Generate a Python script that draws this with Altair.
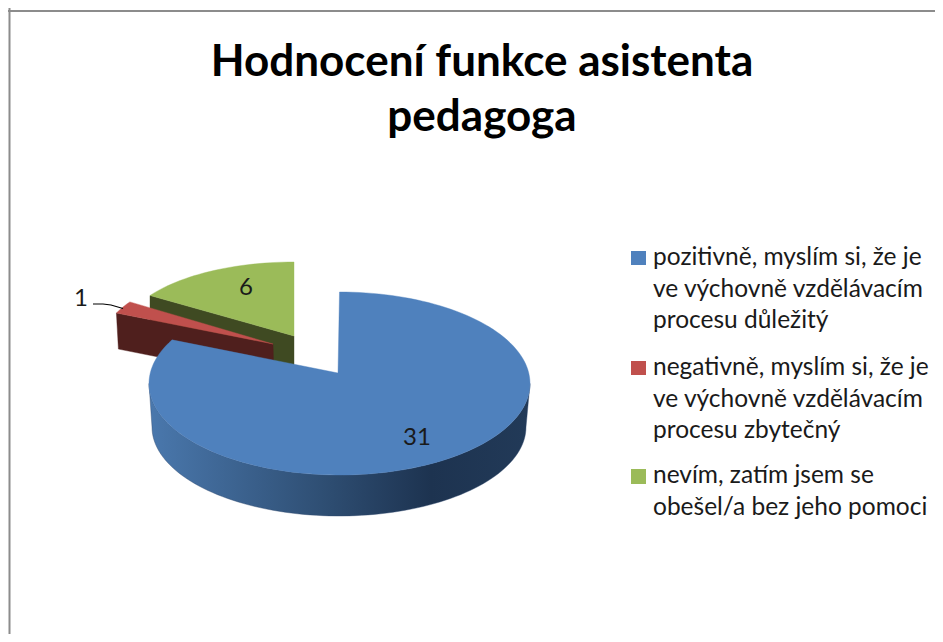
import math
import altair as alt
import pandas as pd

categories = ["pozitivně", "negativně", "nevím"]
values = [31, 1, 6]
top_colors = ["#4f81bd", "#c0504d", "#9bbb59"]
side_colors = ["#1f3552", "#4f1f1d", "#3f4a22"]
title_lines = ["Hodnocení funkce asistenta", "pedagoga"]
legend_lines = [
    ["pozitivně, myslím si, že je", "ve výchovně vzdělávacím", "procesu důležitý"],
    ["negativně, myslím si, že je", "ve výchovně vzdělávacím", "procesu zbytečný"],
    ["nevím, zatím jsem se", "obešel/a bez jeho pomoci"],
]
FONT = "Lato"
W, H = 927, 626

xs = alt.X("x:Q", scale=alt.Scale(domain=[8, 8 + W], nice=False, zero=False), axis=None)
ys = alt.Y("y:Q", scale=alt.Scale(domain=[8 + H, 8], nice=False, zero=False), axis=None)

# slice angles come from the values
total = sum(values)
edges = [0]
for v in values:
    edges.append(edges[-1] + v / total * 360)


def arc(cx, cy, rx, ry, t0, t1, step=2):
    n = max(2, int(abs(t1 - t0) / step) + 1)
    out = []
    for k in range(n + 1):
        t = math.radians(t0 + (t1 - t0) * k / n)
        out.append((cx + rx * math.sin(t), cy - ry * math.cos(t)))
    return out


def poly(points, fill):
    df = pd.DataFrame([{"x": p[0], "y": p[1], "i": i} for i, p in enumerate(points + points[:1])])
    return alt.Chart(df).mark_line(fill=fill, stroke=fill if isinstance(fill, str) else "#2a4569",
                                   strokeWidth=0.4, interpolate="linear").encode(
        x=xs, y=ys, order=alt.Order("i:Q"))


def text(x, y, s, size, color="#1a1a1a", bold=False, align="left"):
    df = pd.DataFrame([{"x": x, "y": y, "t": s}])
    return alt.Chart(df).mark_text(font=FONT, fontSize=size, color=color, align=align, baseline="alphabetic",
                                   fontWeight="bold" if bold else "normal").encode(x=xs, y=ys, text="t:N")


layers = []

# frame
layers.append(alt.Chart(pd.DataFrame([{"x": 9.5}])).mark_rule(color="#8c8c8c", strokeWidth=2).encode(x=xs))
layers.append(alt.Chart(pd.DataFrame([{"y": 11}])).mark_rule(color="#8c8c8c", strokeWidth=2).encode(y=ys))

# green slice
g_apex = (294, 336)
g_arc = arc(g_apex[0], g_apex[1], 172, 74, edges[2], edges[3])
depth_g = 38
g_side = [g_arc[0], g_apex, (g_apex[0], g_apex[1] + depth_g), (g_arc[0][0], g_arc[0][1] + depth_g)]
layers.append(poly(g_side, side_colors[2]))
layers.append(poly(g_arc + [g_apex], top_colors[2]))

# red slice
r_apex = (273, 344)
r_arc = arc(r_apex[0], r_apex[1], 171, 77, edges[1], edges[2])
depth_r = 36
r_side = [r_arc[0], r_apex, (r_apex[0] + 1, r_apex[1] + depth_r), (r_arc[0][0] + 2, r_arc[0][1] + depth_r)]
layers.append(poly(r_side, side_colors[1]))
layers.append(poly(r_arc + [r_apex], top_colors[1]))

# blue slice
b_center = (339.5, 383.5)
b_apex = (338, 373)
side_top = arc(b_center[0], b_center[1], 190.5, 91.5, 90, 270)
side_bottom = arc(339, 427, 187, 89, 270, 90)
blue_gradient = alt.Gradient(
    gradient="linear", x1=0, x2=1, y1=0, y2=0,
    stops=[
        alt.GradientStop(offset=0, color="#4a78ad"),
        alt.GradientStop(offset=0.45, color="#2f4f74"),
        alt.GradientStop(offset=0.74, color="#1d3350"),
        alt.GradientStop(offset=1, color="#223a58"),
    ],
)
layers.append(poly(side_top + side_bottom, blue_gradient))
b_end = edges[1] + 4.8  # perspective of the lifted rim
layers.append(poly(arc(b_center[0], b_center[1], 190.5, 91.5, 0, b_end) + [b_apex], top_colors[0]))

# leader line and data labels
leader = pd.DataFrame({"x": [93, 103, 111, 123], "y": [304, 304, 305, 308.5], "i": [0, 1, 2, 3]})
layers.append(alt.Chart(leader).mark_line(color="#000000", strokeWidth=1.2).encode(x=xs, y=ys, order=alt.Order("i:Q")))
layers.append(text(81, 306, str(values[1]), 24, align="center"))
layers.append(text(246, 295, str(values[2]), 24, align="center"))
layers.append(text(417, 445, str(values[0]), 24, align="center"))

# title
layers.append(text(482, 76, title_lines[0], 44, color="#000000", bold=True, align="center"))
layers.append(text(482, 131, title_lines[1], 44, color="#000000", bold=True, align="center"))

# legend
swatch_y = [(251, 265), (361, 375), (469, 484)]
line_y = [[265, 297, 328], [375, 407, 438], [483, 515]]
for c, (y0, y1), lines, ly in zip(top_colors, swatch_y, legend_lines, line_y):
    sw = pd.DataFrame([{"x": 631, "x2": 646, "y": y0, "y2": y1}])
    layers.append(alt.Chart(sw).mark_rect(color=c).encode(x=xs, x2="x2:Q", y=ys, y2="y2:Q"))
    for s, y in zip(lines, ly):
        layers.append(text(653, y, s, 24.5))

chart = alt.layer(*layers).properties(
    width=W, height=H, padding=0, autosize=alt.AutoSizeParams(type="none"), background="#ffffff"
).configure_view(stroke=None)

chart.save("out.html", embed_options={"renderer": "svg", "actions": False})
